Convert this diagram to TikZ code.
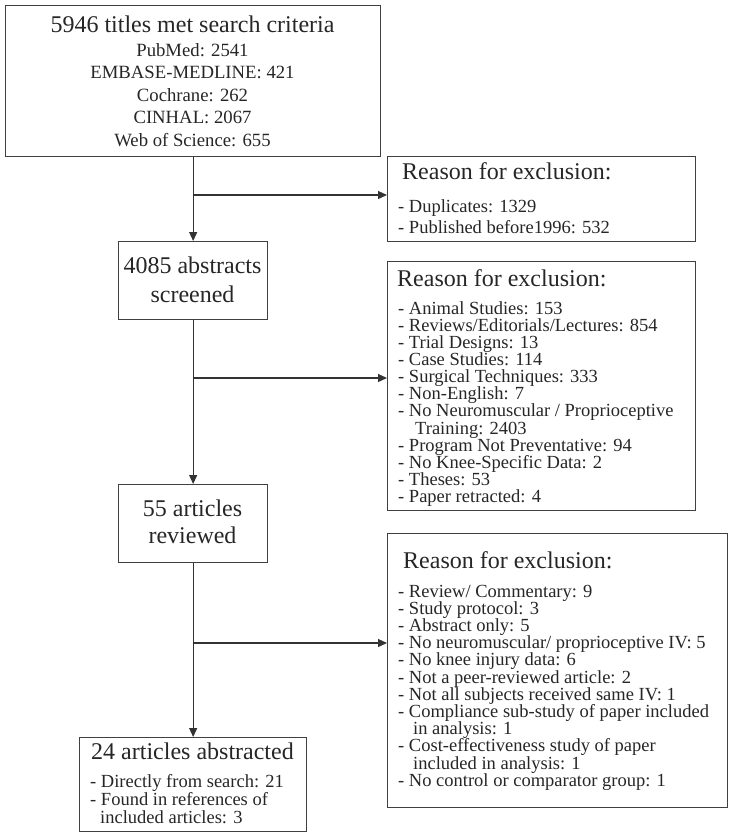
\documentclass[tikz,border=0pt]{standalone}
\usepackage{fontspec}
\setmainfont{Liberation Serif}
\usetikzlibrary{arrows.meta}
\begin{document}
\begin{tikzpicture}[x=1pt,y=-1pt,
  box/.style={draw=black!75, line width=1.3pt, rectangle, inner sep=0pt, anchor=north west},
  big/.style={font=\fontsize{24}{28}\selectfont, text=black!85, inner sep=0pt, anchor=base},
  mid/.style={font=\fontsize{18.7}{22}\selectfont, text=black!85, inner sep=0pt, anchor=base},
  small/.style={font=\fontsize{18.5}{17}\selectfont, text=black!85, inner sep=0pt, anchor=base west,
    text height=12pt, text depth=3pt},
  head/.style={font=\fontsize{24}{28}\selectfont, text=black!85, inner sep=0pt, anchor=base west},
  ln/.style={draw=black!80, line width=1.2pt},
  arr/.style={ln, -{Triangle[length=9pt,width=8pt]}}]
\useasboundingbox (0,0) rectangle (733,836);

% boxes
\node[box, minimum width=375pt, minimum height=151pt] (b1) at (5,5) {};
\node[box, minimum width=308pt, minimum height=85pt] (b2) at (387,156) {};
\node[box, minimum width=149pt, minimum height=78pt] (b3) at (118,241) {};
\node[box, minimum width=308pt, minimum height=249pt] (b4) at (387,261) {};
\node[box, minimum width=149pt, minimum height=78pt] (b5) at (118,484) {};
\node[box, minimum width=340pt, minimum height=274pt] (b6) at (387,533) {};
\node[box, minimum width=227pt, minimum height=94pt] (b7) at (79,737) {};

% box 1 text
\node[big] (t1) at (192.5,32) {5946 titles met search criteria};
\node[mid] (t1a) at (192.5,56) {PubMed: 2541};
\node[mid] (t1b) at (192.5,78.5) {EMBASE-MEDLINE: 421};
\node[mid] (t1c) at (192.5,101) {Cochrane: 262};
\node[mid] (t1d) at (192.5,123.5) {CINHAL: 2067};
\node[mid] (t1e) at (192.5,146) {Web of Science: 655};

% box 2 text
\node[head] (t2) at (402,179) {Reason for exclusion:};
\node[small] (t2a) at (398,212) {- Duplicates: 1329};
\node[small] (t2b) at (398,233) {- Published before1996: 532};

% box 3 text
\node[big] (t3a) at (192.5,273) {4085 abstracts};
\node[big] (t3b) at (192.5,302) {screened};

% box 4 text
\node[head] (t4) at (397,286) {Reason for exclusion:};
\foreach \txt [count=\i from 0] in {
  {- Animal Studies: 153},
  {- Reviews/Editorials/Lectures: 854},
  {- Trial Designs: 13},
  {- Case Studies: 114},
  {- Surgical Techniques: 333},
  {- Non-English: 7},
  {- No Neuromuscular / Proprioceptive},
  {\hspace*{17pt}Training: 2403},
  {- Program Not Preventative: 94},
  {- No Knee-Specific Data: 2},
  {- Theses: 53},
  {- Paper retracted: 4}}
  \node[small] (t4-\i) at (398,314.3+17.1*\i) {\txt};

% box 5 text
\node[big] (t5a) at (192.5,516) {55 articles};
\node[big] (t5b) at (192.5,543) {reviewed};

% box 6 text
\node[head] (t6) at (403,568) {Reason for exclusion:};
\foreach \txt [count=\i from 0] in {
  {- Review/ Commentary: 9},
  {- Study protocol: 3},
  {- Abstract only: 5},
  {- No neuromuscular/ proprioceptive IV: 5},
  {- No knee injury data: 6},
  {- Not a peer-reviewed article: 2},
  {- Not all subjects received same IV: 1},
  {- Compliance sub-study of paper included},
  {\hspace*{15pt}in analysis: 1},
  {- Cost-effectiveness study of paper},
  {\hspace*{15pt}included in analysis: 1},
  {- No control or comparator group: 1}}
  \node[small] (t6-\i) at (398,597+17.2*\i) {\txt};

% box 7 text
\node[big] (t7) at (192.5,759) {24 articles abstracted};
\node[small] (t7a) at (90,787) {- Directly from search: 21};
\node[small] (t7b) at (90,805) {- Found in references of};
\node[small] (t7c) at (100,823) {included articles: 3};

% connectors
\coordinate (j1) at (192.5,195);
\coordinate (j2) at (192.5,378);
\coordinate (j3) at (192.5,643);
\draw[arr] (b1.south) -- (b3.north);
\draw[arr] (j1) -- (j1 -| b2.west);
\draw[arr] (b3.south) -- (b5.north);
\draw[arr] (j2) -- (j2 -| b4.west);
\draw[arr] (b5.south) -- (b7.north);
\draw[arr] (j3) -- (j3 -| b6.west);
\end{tikzpicture}
\end{document}
